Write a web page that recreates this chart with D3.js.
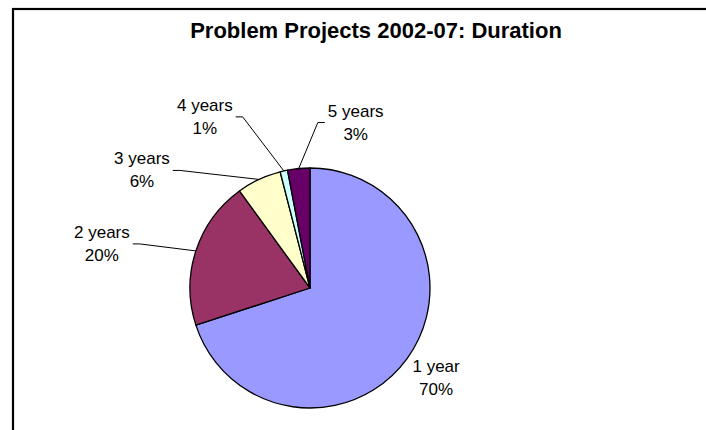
<!DOCTYPE html>
<html lang="en">
  <head>
    <meta charset="UTF-8" />
    <title>Problem Projects 2002-07: Duration</title>
    <script src="https://d3js.org/d3.v7.min.js"></script>
    <style>
      body { margin: 0; background: #fff; }
      text { font-family: Arial, "Liberation Sans", sans-serif; fill: #000; }
    </style>
  </head>
  <body>
    <div id="chart"></div>
    <script>
      var categories = ["1 year", "2 years", "3 years", "4 years", "5 years"];
      var shares = [70, 20, 6, 1, 3];
      var pctLabels = ["70%", "20%", "6%", "1%", "3%"];
      var colors = ["#9999ff", "#993366", "#ffffcc", "#ccffff", "#660066"];

      width = 706;
      height = 430;
      var cx = 310, cy = 288, r = 120;
      // label block centre, relative to the middle of the slice rim
      var labelShift = [[29, 18], [-94, -8], [-117, -10], [-79, -55], [57, -47]];

      var svg = d3
        .select("#chart")
        .append("svg")
        .attr("width", width)
        .attr("height", height);

      // chart frame (runs off the right and bottom edge)
      svg
        .append("rect")
        .attr("x", 13)
        .attr("y", 9)
        .attr("width", 760)
        .attr("height", 480)
        .attr("fill", "#fff")
        .attr("stroke", "#000")
        .attr("stroke-width", 2.2);

      svg
        .append("text")
        .attr("x", 376)
        .attr("y", 38)
        .attr("text-anchor", "middle")
        .style("font-size", "22px")
        .style("font-weight", "bold")
        .text("Problem Projects 2002-07: Duration");

      var pie = d3.pie().sort(null).value(function (d) { return d; });
      var arcs = pie(shares);

      var arc = d3.arc().innerRadius(0).outerRadius(r);
      var rim = d3.arc().innerRadius(r).outerRadius(r);

      var g = svg.append("g").attr("transform", "translate(" + cx + "," + cy + ")");

      g.selectAll("path.slice")
        .data(arcs)
        .enter()
        .append("path")
        .attr("class", "slice")
        .attr("d", arc)
        .attr("fill", function (d, i) { return colors[i]; })
        .attr("stroke", "#000")
        .attr("stroke-width", 1.3)
        .attr("stroke-linejoin", "round");

      arcs.forEach(function (d, i) {
        var p = rim.centroid(d);
        var lx = p[0] + labelShift[i][0];
        var ly = p[1] + labelShift[i][1];

        var t = g
          .append("text")
          .attr("text-anchor", "middle")
          .style("font-size", "17px");
        t.append("tspan").attr("x", lx).attr("y", ly - 5).text(categories[i]);
        t.append("tspan").attr("x", lx).attr("y", ly + 18).text(pctLabels[i]);

        var w = 0;
        t.selectAll("tspan").each(function () {
          w = Math.max(w, this.getComputedTextLength());
        });

        var dist = Math.hypot(labelShift[i][0], labelShift[i][1]);
        if (dist < 60) return; // label sits right by the slice, no leader

        var side = lx < p[0] ? 1 : -1;
        var ex = lx + side * (w / 2 + 3);
        var ey = ly + 1;
        var pts = [[ex, ey], [ex + side * 7, ey], p];
        g.append("path")
          .attr("d", d3.line()(pts))
          .attr("fill", "none")
          .attr("stroke", "#000")
          .attr("stroke-width", 1);
      });
    </script>
  </body>
</html>
